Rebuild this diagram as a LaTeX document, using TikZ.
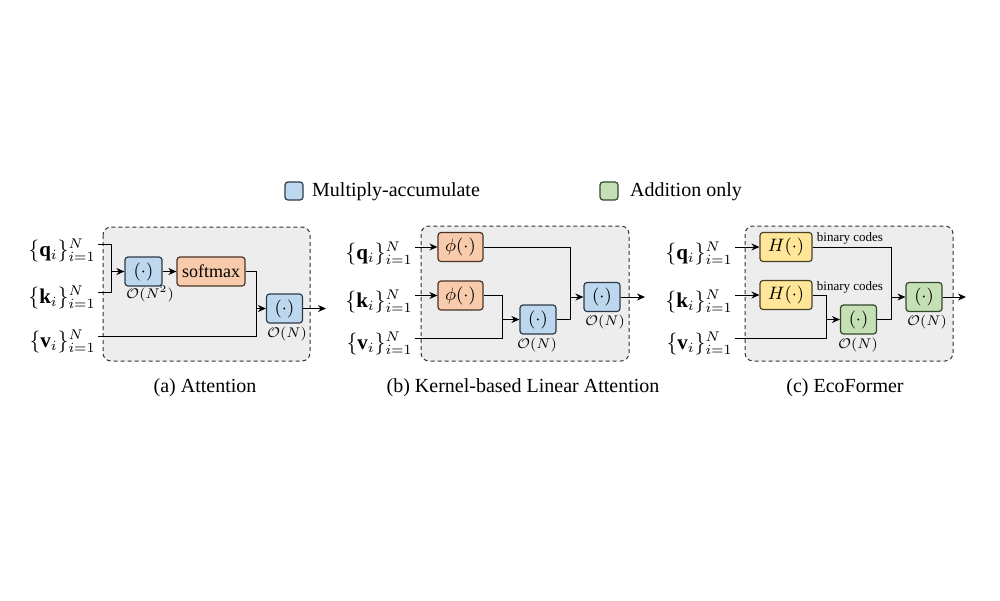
\documentclass[tikz,border=0pt]{standalone}
\usepackage{fontspec}
\setmainfont{Liberation Serif}
\usetikzlibrary{arrows.meta}
\definecolor{macfill}{HTML}{BDD7EE}
\definecolor{macline}{HTML}{2E3A48}
\definecolor{nlfill}{HTML}{F8CBAD}
\definecolor{nlline}{HTML}{4A3428}
\definecolor{hashfill}{HTML}{FFE699}
\definecolor{hashline}{HTML}{4A4228}
\definecolor{addfill}{HTML}{C5E0B4}
\definecolor{addline}{HTML}{34472A}
\definecolor{panelfill}{HTML}{EDEDED}
\begin{document}
\begin{tikzpicture}[x=0.5pt,y=-0.5pt,
    blk/.style={rounded corners=1.5pt, line width=0.6pt, minimum width=18pt, minimum height=14.5pt, inner sep=0pt, font=\fontsize{9}{10}\selectfont},
    mac/.style={blk, draw=macline, fill=macfill},
    nonlin/.style={blk, draw=nlline, fill=nlfill},
    hash/.style={blk, draw=hashline, fill=hashfill, minimum width=26pt},
    add/.style={blk, draw=addline, fill=addfill},
    panel/.style={draw=black!80, fill=panelfill, dash pattern=on 2pt off 1.5pt, rounded corners=4pt, line width=0.5pt},
    lbl/.style={anchor=east, inner sep=1pt, font=\fontsize{10.5}{12}\selectfont},
    cost/.style={inner sep=0pt, font=\scriptsize},
    code/.style={inner sep=0pt, font=\fontsize{6.5}{7}\selectfont},
    arr/.style={-{Stealth[length=4pt,width=3.5pt]}},
    every path/.style={line width=0.5pt}]
  \useasboundingbox (0,0) rectangle (1000,600);

  \node[mac, minimum width=9pt, minimum height=9pt] (legmac) at (294,191) {};
  \node[anchor=west] (legmactxt) at (305,192) {Multiply-accumulate};
  \node[add, minimum width=9pt, minimum height=9pt] (legadd) at (609,191) {};
  \node[anchor=west] (legaddtxt) at (623,192) {Addition only};

  \draw[panel] (103,227) rectangle (310,361);
  \node[lbl] (qa) at (98,250) {$\{\mathbf{q}_i\}_{i=1}^N$};
  \node[lbl] (ka) at (98,297) {$\{\mathbf{k}_i\}_{i=1}^N$};
  \node[lbl] (va) at (98,341) {$\{\mathbf{v}_i\}_{i=1}^N$};
  \coordinate (qa0) at (98,244);
  \coordinate (ka0) at (98,292);
  \coordinate (va0) at (98,336);
  \node[mac, minimum width=18.5pt] (dota) at (143.5,271.5) {$(\cdot)$};
  \node[nonlin, minimum width=34pt] (smax) at (211,271.5) {softmax};
  \node[mac] (outa) at (284.5,308.5) {$(\cdot)$};
  \node[cost] (costa1) at (150,294) {$\mathcal{O}(N^2)$};
  \node[cost] (costa2) at (287,334) {$\mathcal{O}(N)$};
  \coordinate (ja1) at (111,271.5);
  \coordinate (ja2) at (256,308.5);
  \coordinate (enda) at (326,308.5);
  \draw (qa0) -| (ja1);
  \draw (ka0) -| (ja1);
  \draw[arr] (ja1) -- (dota);
  \draw[arr] (dota) -- (smax);
  \draw (smax.east) -| (ja2);
  \draw (va0) -| (ja2);
  \draw[arr] (ja2) -- (outa);
  \draw[arr] (outa) -- (enda);
  \node (capa) at (205,388) {(a) Attention};

  \draw[panel] (421,226) rectangle (629,361);
  \node[lbl] (qb) at (415,253) {$\{\mathbf{q}_i\}_{i=1}^N$};
  \node[lbl] (kb) at (415,301) {$\{\mathbf{k}_i\}_{i=1}^N$};
  \node[lbl] (vb) at (415,343) {$\{\mathbf{v}_i\}_{i=1}^N$};
  \coordinate (qb0) at (415,247);
  \coordinate (kb0) at (415,295.5);
  \coordinate (vb0) at (415,338);
  \node[nonlin, minimum width=22.5pt] (phiq) at (460.5,247) {$\phi(\cdot)$};
  \node[nonlin, minimum width=22.5pt] (phik) at (460.5,295.5) {$\phi(\cdot)$};
  \node[mac] (midb) at (538,319.5) {$(\cdot)$};
  \node[mac] (outb) at (602,297) {$(\cdot)$};
  \node[cost] (costb1) at (537,345) {$\mathcal{O}(N)$};
  \node[cost] (costb2) at (605,322) {$\mathcal{O}(N)$};
  \coordinate (jb1) at (502,319.5);
  \coordinate (jb2) at (570,297);
  \coordinate (endb) at (645,297);
  \draw[arr] (qb0) -- (phiq);
  \draw[arr] (kb0) -- (phik);
  \draw (phik.east) -| (jb1);
  \draw (vb0) -| (jb1);
  \draw[arr] (jb1) -- (midb);
  \draw (phiq.east) -| (jb2);
  \draw (midb.east) -| (jb2);
  \draw[arr] (jb2) -- (outb);
  \draw[arr] (outb) -- (endb);
  \node (capb) at (523,388) {(b) Kernel-based Linear Attention};

  \draw[panel] (745,226) rectangle (953,361);
  \node[lbl] (qc) at (735,253) {$\{\mathbf{q}_i\}_{i=1}^N$};
  \node[lbl] (kc) at (735,301) {$\{\mathbf{k}_i\}_{i=1}^N$};
  \node[lbl] (vc) at (735,343) {$\{\mathbf{v}_i\}_{i=1}^N$};
  \coordinate (qc0) at (735,247);
  \coordinate (kc0) at (735,295);
  \coordinate (vc0) at (735,338);
  \node[hash] (hq) at (786,247) {$H(\cdot)$};
  \node[hash] (hk) at (786,295) {$H(\cdot)$};
  \node[add] (midc) at (858.5,319.5) {$(\cdot)$};
  \node[add] (outc) at (924,297) {$(\cdot)$};
  \node[code] (codeq) at (850,238) {binary codes};
  \node[code] (codek) at (850,287) {binary codes};
  \node[cost] (costc1) at (858,345) {$\mathcal{O}(N)$};
  \node[cost] (costc2) at (927,322) {$\mathcal{O}(N)$};
  \coordinate (jc1) at (826,319.5);
  \coordinate (jc2) at (891,297);
  \coordinate (endc) at (966,297);
  \draw[arr] (qc0) -- (hq);
  \draw[arr] (kc0) -- (hk);
  \draw (hk.east) -| (jc1);
  \draw (vc0) -| (jc1);
  \draw[arr] (jc1) -- (midc);
  \draw (hq.east) -| (jc2);
  \draw (midc.east) -| (jc2);
  \draw[arr] (jc2) -- (outc);
  \draw[arr] (outc) -- (endc);
  \node (capc) at (845,388) {(c) EcoFormer};
\end{tikzpicture}
\end{document}
